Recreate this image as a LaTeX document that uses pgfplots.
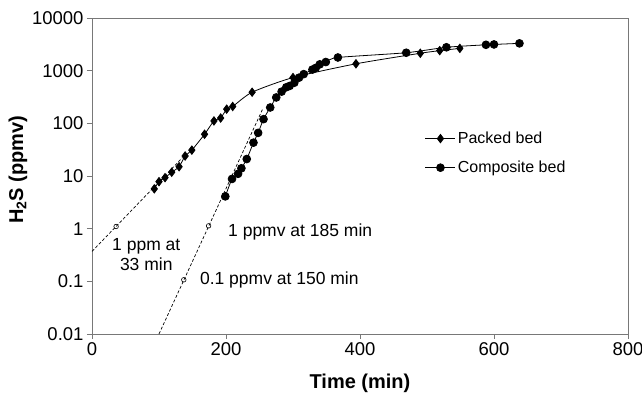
\documentclass[border=0pt]{standalone}
\usepackage{fontspec}
\setmainfont{Liberation Sans}
\usepackage{pgfplots}
\pgfplotsset{compat=1.18}
\definecolor{axgray}{RGB}{120,120,120}
\begin{document}
\begin{tikzpicture}
\useasboundingbox (-92bp,-61bp) rectangle (550bp,334bp);
\begin{axis}[
 at={(0,0)}, anchor=south west,
 scale only axis, width=536bp, height=316bp,
 xmin=0, xmax=800, ymode=log, ymin=0.01, ymax=10000,
 xtick={0,200,400,600,800},
 ytick={0.01,0.1,1,10,100,1000,10000},
 yticklabels={0.01,0.1,1,10,100,1000,10000},
 yminorticks=false, xminorticks=false,
 /pgf/number format/assume math mode=true,
 axis line style={axgray, line width=0.9pt},
 tick style={axgray, line width=0.9pt},
 major tick length=5bp, tick align=outside,
 xtick pos=bottom, ytick pos=left,
 tick label style={font=\fontsize{18.5bp}{21bp}\selectfont, black},
 xlabel={\bfseries Time (min)},
 ylabel={\bfseries H\textsubscript{2}S (ppmv)},
 label style={font=\fontsize{20bp}{23bp}\selectfont},
 xlabel style={at={(axis description cs:0.5,-0.155)}, anchor=center},
 ylabel style={at={(axis description cs:-0.138,0.52)}, anchor=center},
 legend style={draw=none, fill=none, at={(0.621,0.646)}, anchor=north west,
   font=\fontsize{16bp}{19bp}\selectfont, row sep=12bp, inner sep=0pt},
 legend cell align=left,
 legend image code/.code={\draw[mark repeat=2,mark phase=2] plot coordinates {(0bp,0bp) (15bp,0bp) (30bp,0bp)};},
]
% extrapolation lines
\addplot[black, densely dashed, line width=0.7pt, forget plot] coordinates {(0,0.37) (135,22.3)};
\addplot[black, densely dashed, line width=0.7pt, forget plot] coordinates {(100,0.01) (255,190)};
\addplot[only marks, mark=o, mark size=2.3bp, mark options={fill=white, black, line width=0.6pt}, forget plot] coordinates {(36,1.1) (137,0.107) (174,1.13)};
% Packed bed
\addplot[black, line width=0.8pt, smooth, tension=0.4, mark=diamond*, mark size=4.2bp, mark options={solid}] coordinates {
(93,5.7) (100,7.8) (109,9.3) (119,11.8) (130,15) (139,24) (149,31) (168,62) (182,111) (192,126) (201,186) (210,209) (239,390) (300,740) (394,1350) (490,2140) (519,2400) (549,2650)
};
\addlegendentry{Packed bed}
% Composite bed
\addplot[black, line width=0.8pt, smooth, tension=0.4, mark=*, mark size=3.9bp] coordinates {
(199,4.1) (209,8.8) (218,11) (223,14) (231,21) (241,43) (248,66) (256,120) (266,200) (275,310) (283,400) (290,484) (295,513) (302,590) (309,736) (316,860) (329,1050) (334,1130) (340,1320) (349,1460) (367,1780) (469,2190) (529,2780) (588,3100) (600,3150) (638,3300)
};
\addlegendentry{Composite bed}
% annotations
\node[align=center, font=\fontsize{17.5bp}{20bp}\selectfont, inner sep=0pt] at (axis cs:81,0.32) {1 ppm at\\33 min};
\node[anchor=west, font=\fontsize{17.5bp}{20bp}\selectfont, inner sep=0pt] at (axis cs:203,0.87) {1 ppmv at 185 min};
\node[anchor=west, font=\fontsize{17.5bp}{20bp}\selectfont, inner sep=0pt] at (axis cs:161,0.107) {0.1 ppmv at 150 min};
\end{axis}
\end{tikzpicture}
\end{document}
